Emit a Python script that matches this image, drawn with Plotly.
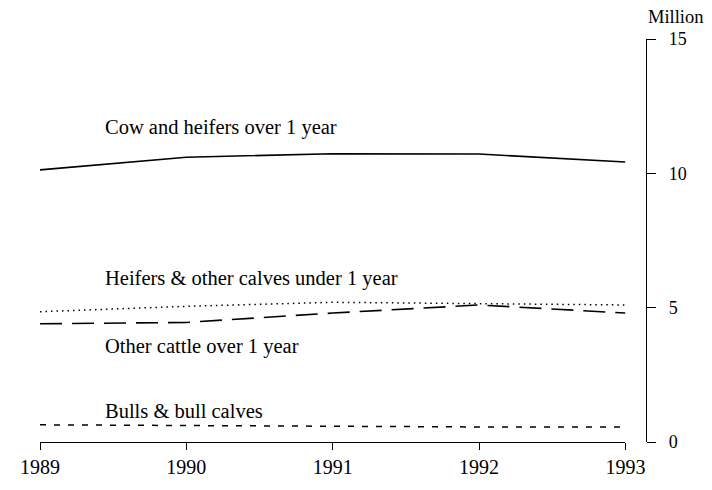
import plotly.graph_objects as go

years = [1989, 1990, 1991, 1992, 1993]
cows_heifers = [10.13, 10.6, 10.73, 10.72, 10.42]
heifers_calves = [4.85, 5.05, 5.2, 5.15, 5.1]
other_cattle = [4.4, 4.45, 4.8, 5.1, 4.8]
bulls = [0.64, 0.61, 0.58, 0.56, 0.56]

x_ticks = [1989, 1990, 1991, 1992, 1993]
y_ticks = [0, 5, 10, 15]

labels = ["Cow and heifers over 1 year", "Heifers & other calves under 1 year",
          "Other cattle over 1 year", "Bulls & bull calves"]
label_y = [11.7, 6.07, 3.56, 1.16]

FONT = "Liberation Serif, Times New Roman, serif"

fig = go.Figure()
series = [
    (cows_heifers, "solid", 1.6),
    (heifers_calves, "1.5px,4px", 1.5),
    (other_cattle, "22px,10px", 1.6),
    (bulls, "6px,8px", 1.5),
]
for vals, dash, w in series:
    fig.add_trace(go.Scatter(x=years, y=vals, mode="lines",
                             line=dict(color="black", width=w, dash=dash),
                             showlegend=False, hoverinfo="skip"))

for txt, yy in zip(labels, label_y):
    fig.add_annotation(x=1989.43, y=yy, text=txt, showarrow=False,
                       xanchor="left", yanchor="middle",
                       font=dict(family=FONT, size=20.5, color="black"))

fig.add_annotation(x=1.0, y=1.0, xref="paper", yref="paper", text="Million",
                   showarrow=False, xanchor="left", yanchor="middle",
                   xshift=0, yshift=22,
                   font=dict(family=FONT, size=18.5, color="black"))

# page body has an 8px margin, so the figure is sized to fit the window
fig.update_layout(
    width=704, height=482,
    margin=dict(l=21, r=66, t=31, b=38),
    paper_bgcolor="white", plot_bgcolor="white",
    font=dict(family=FONT, size=20, color="black"),
    xaxis=dict(domain=[0, 0.966], range=[1989, 1993], tickvals=x_ticks,
               ticktext=[str(v) for v in x_ticks],
               showgrid=False, zeroline=False, showline=True, linecolor="black",
               linewidth=1.4, ticks="outside", ticklen=7, tickwidth=1.4,
               tickcolor="black", tickfont=dict(family=FONT, size=20)),
    yaxis=dict(range=[0, 15], tickvals=y_ticks, side="right", anchor="free",
               position=1.0, showgrid=False, zeroline=False, showline=True,
               linecolor="black", linewidth=1.4, ticks="outside", ticklen=9,
               tickwidth=1.4, tickcolor="black", ticklabelstandoff=9,
               tickfont=dict(family=FONT, size=18)),
)

fig.write_html("out.html")
